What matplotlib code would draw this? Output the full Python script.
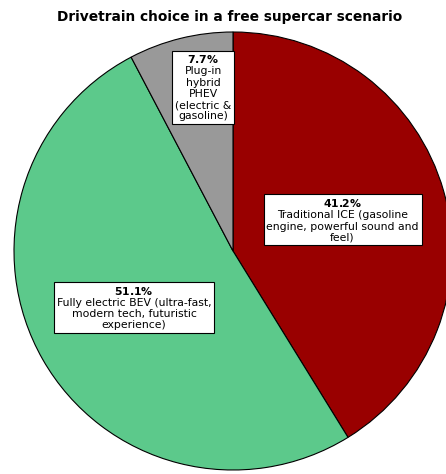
import numpy as np
import matplotlib.pyplot as plt

# Datos
labels = ['Traditional ICE (gasoline\nengine, powerful sound and\nfeel)',
          'Fully electric BEV (ultra-fast,\nmodern tech, futuristic\nexperience)',
          'Plug-in\nhybrid\nPHEV\n(electric &\ngasoline)']
shares = [41.2, 51.1, 7.7]
colors = ['#990000', '#5cc98b', '#999999']
label_r = [0.52, 0.52, 0.76]
label_shift = [0, 0, -3.5]  # grados

fig = plt.figure(figsize=(4.46, 4.74), dpi=100)
ax = fig.add_axes([14 / 446, 4 / 474, 438 / 446, 438 / 474])

wedges, _ = ax.pie(shares, colors=colors, startangle=90, counterclock=False,
                   radius=1, wedgeprops=dict(edgecolor='black', linewidth=0.8))
ax.set_xlim(-1, 1)
ax.set_ylim(-1, 1)
ax.set_aspect('equal')
ax.axis('off')

for w, lab, val, r, d in zip(wedges, labels, shares, label_r, label_shift):
    ang = np.deg2rad((w.theta1 + w.theta2) / 2 + d)
    x, y = r * np.cos(ang), r * np.sin(ang)
    ax.text(x, y, f'$\\bf{{{val}\\%}}$\n' + lab, ha='center', va='center',
            fontsize=7.8, linespacing=1.15,
            bbox=dict(boxstyle='square,pad=0.25', fc='white', ec='black', lw=0.8))

fig.text(0.515, 0.964, 'Drivetrain choice in a free supercar scenario',
         ha='center', va='center', fontsize=9.9, fontweight='bold')

fig.savefig('out.png', dpi=100)
